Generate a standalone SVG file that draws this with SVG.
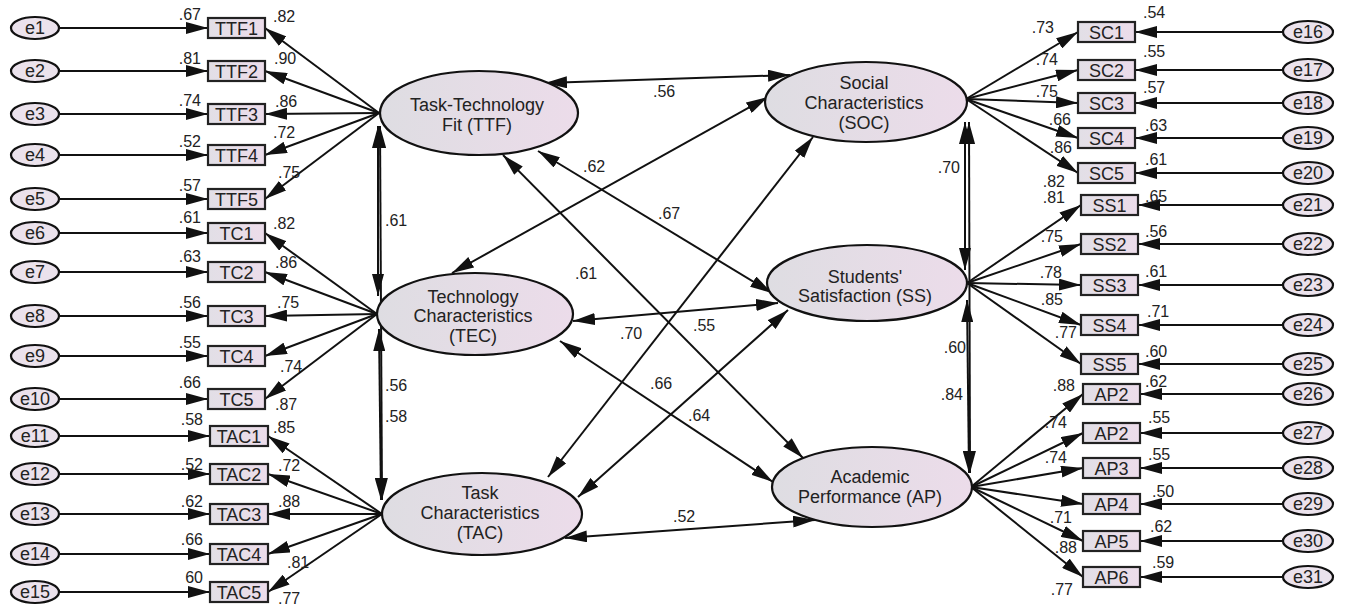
<svg xmlns="http://www.w3.org/2000/svg" width="1349" height="608" viewBox="0 0 1349 608">
<defs>
<linearGradient id="g" x1="0" y1="0" x2="1" y2="0">
<stop offset="0" stop-color="#dedde2"/><stop offset="1" stop-color="#ecdcea"/>
</linearGradient>
<linearGradient id="gb" x1="0" y1="0" x2="1" y2="0">
<stop offset="0" stop-color="#e2dfe6"/><stop offset="1" stop-color="#ecdcea"/>
</linearGradient>
<marker id="ah" viewBox="0 0 22 12" refX="22" refY="6" markerWidth="22" markerHeight="12" markerUnits="userSpaceOnUse" orient="auto-start-reverse">
<path d="M0,0 L22,6 L0,12 z" fill="#111"/>
</marker>
<style>
.lat{fill:url(#g);stroke:#111;stroke-width:2.2}
.err{fill:#ebe2ec;stroke:#111;stroke-width:2.2}
.box{fill:url(#gb);stroke:#222;stroke-width:2.2}
.ln{stroke:#111;stroke-width:2;fill:none;marker-end:url(#ah)}
.dbl{stroke:#111;stroke-width:2;fill:none;marker-end:url(#ah);marker-start:url(#ah)}
text{font-family:"Liberation Sans",Arial,sans-serif;fill:#222}
.lt{font-size:18px;text-anchor:middle}
.bt{font-size:18px;text-anchor:middle}
.et{font-size:18px;text-anchor:middle}
.nr{font-size:16px;text-anchor:end}
.nl{font-size:16px;text-anchor:start}
</style>
</defs>

<g id="connectors">
<line class="ln" x1="59" y1="28" x2="208" y2="28"/>
<line class="ln" x1="59" y1="71" x2="208" y2="71"/>
<line class="ln" x1="59" y1="114" x2="208" y2="114"/>
<line class="ln" x1="59" y1="155" x2="208" y2="155"/>
<line class="ln" x1="59" y1="199" x2="208" y2="199"/>
<line class="ln" x1="59" y1="233" x2="208" y2="233"/>
<line class="ln" x1="59" y1="272" x2="208" y2="272"/>
<line class="ln" x1="59" y1="316" x2="208" y2="316"/>
<line class="ln" x1="59" y1="356" x2="208" y2="356"/>
<line class="ln" x1="59" y1="399" x2="208" y2="399"/>
<line class="ln" x1="59" y1="436" x2="210" y2="436"/>
<line class="ln" x1="59" y1="474" x2="210" y2="474"/>
<line class="ln" x1="59" y1="514" x2="210" y2="514"/>
<line class="ln" x1="59" y1="554" x2="210" y2="554"/>
<line class="ln" x1="59" y1="592" x2="210" y2="592"/>
<line class="ln" x1="379" y1="113" x2="265" y2="28"/>
<line class="ln" x1="379" y1="113" x2="265" y2="71"/>
<line class="ln" x1="379" y1="113" x2="265" y2="114"/>
<line class="ln" x1="379" y1="113" x2="265" y2="155"/>
<line class="ln" x1="379" y1="113" x2="265" y2="199"/>
<line class="ln" x1="377" y1="314" x2="265" y2="233"/>
<line class="ln" x1="377" y1="314" x2="265" y2="272"/>
<line class="ln" x1="377" y1="314" x2="265" y2="316"/>
<line class="ln" x1="377" y1="314" x2="265" y2="356"/>
<line class="ln" x1="377" y1="314" x2="265" y2="399"/>
<line class="ln" x1="382" y1="514" x2="268" y2="436"/>
<line class="ln" x1="382" y1="514" x2="268" y2="474"/>
<line class="ln" x1="382" y1="514" x2="268" y2="514"/>
<line class="ln" x1="382" y1="514" x2="268" y2="554"/>
<line class="ln" x1="382" y1="514" x2="268" y2="592"/>
<line class="ln" x1="966" y1="99" x2="1078" y2="32"/>
<line class="ln" x1="966" y1="99" x2="1078" y2="70"/>
<line class="ln" x1="966" y1="99" x2="1078" y2="103"/>
<line class="ln" x1="966" y1="99" x2="1078" y2="138"/>
<line class="ln" x1="966" y1="99" x2="1078" y2="173"/>
<line class="ln" x1="967" y1="283" x2="1081" y2="205"/>
<line class="ln" x1="967" y1="283" x2="1081" y2="244"/>
<line class="ln" x1="967" y1="283" x2="1081" y2="285"/>
<line class="ln" x1="967" y1="283" x2="1081" y2="325"/>
<line class="ln" x1="967" y1="283" x2="1081" y2="364"/>
<line class="ln" x1="971" y1="487" x2="1083" y2="394"/>
<line class="ln" x1="971" y1="487" x2="1083" y2="433"/>
<line class="ln" x1="971" y1="487" x2="1083" y2="468"/>
<line class="ln" x1="971" y1="487" x2="1083" y2="504"/>
<line class="ln" x1="971" y1="487" x2="1083" y2="541"/>
<line class="ln" x1="971" y1="487" x2="1083" y2="577"/>
<line class="ln" x1="1283" y1="32" x2="1135" y2="32"/>
<line class="ln" x1="1283" y1="70" x2="1135" y2="70"/>
<line class="ln" x1="1283" y1="103" x2="1135" y2="103"/>
<line class="ln" x1="1283" y1="138" x2="1135" y2="138"/>
<line class="ln" x1="1283" y1="173" x2="1135" y2="173"/>
<line class="ln" x1="1283" y1="205" x2="1138" y2="205"/>
<line class="ln" x1="1283" y1="244" x2="1138" y2="244"/>
<line class="ln" x1="1283" y1="285" x2="1138" y2="285"/>
<line class="ln" x1="1283" y1="325" x2="1138" y2="325"/>
<line class="ln" x1="1283" y1="364" x2="1138" y2="364"/>
<line class="ln" x1="1283" y1="394" x2="1140" y2="394"/>
<line class="ln" x1="1283" y1="433" x2="1140" y2="433"/>
<line class="ln" x1="1283" y1="468" x2="1140" y2="468"/>
<line class="ln" x1="1283" y1="504" x2="1140" y2="504"/>
<line class="ln" x1="1283" y1="541" x2="1140" y2="541"/>
<line class="ln" x1="1283" y1="577" x2="1140" y2="577"/>
<line class="dbl" x1="378" y1="126" x2="378" y2="296"/>
<line class="dbl" x1="379" y1="329" x2="381" y2="500"/>
<line class="dbl" x1="380" y1="126" x2="382" y2="500"/>
<line class="dbl" x1="965" y1="122" x2="965" y2="270"/>
<line class="dbl" x1="967" y1="300" x2="969" y2="473"/>
<line class="dbl" x1="969" y1="122" x2="970" y2="473"/>
<line class="dbl" x1="545" y1="83" x2="790" y2="75"/>
<line class="dbl" x1="538" y1="151" x2="772" y2="293"/>
<line class="dbl" x1="503" y1="155" x2="803" y2="458"/>
<line class="dbl" x1="452" y1="273" x2="768" y2="97"/>
<line class="dbl" x1="573" y1="321" x2="778" y2="303"/>
<line class="dbl" x1="560" y1="341" x2="773" y2="482"/>
<line class="dbl" x1="548" y1="477" x2="813" y2="137"/>
<line class="dbl" x1="578" y1="497" x2="788" y2="310"/>
<line class="dbl" x1="565" y1="538" x2="815" y2="520"/>
</g>

<g id="latents">
<g id="TTF"><ellipse class="lat" cx="479" cy="113" rx="99" ry="42"/><text class="lt" x="477" y="111">Task-Technology</text><text class="lt" x="477" y="131">Fit (TTF)</text></g>
<g id="TEC"><ellipse class="lat" cx="475" cy="314" rx="98" ry="41"/><text class="lt" x="473" y="303">Technology</text><text class="lt" x="473" y="322">Characteristics</text><text class="lt" x="473" y="342">(TEC)</text></g>
<g id="TAC"><ellipse class="lat" cx="482" cy="514" rx="100" ry="41"/><text class="lt" x="480" y="499">Task</text><text class="lt" x="480" y="519">Characteristics</text><text class="lt" x="480" y="539">(TAC)</text></g>
<g id="SOC"><ellipse class="lat" cx="866" cy="102" rx="101" ry="40"/><text class="lt" x="864" y="89">Social</text><text class="lt" x="864" y="109">Characteristics</text><text class="lt" x="864" y="129">(SOC)</text></g>
<g id="SS"><ellipse class="lat" cx="867" cy="283" rx="100" ry="38"/><text class="lt" x="865" y="283">Students'</text><text class="lt" x="865" y="302">Satisfaction (SS)</text></g>
<g id="AP"><ellipse class="lat" cx="872" cy="487" rx="100" ry="40"/><text class="lt" x="870" y="483">Academic</text><text class="lt" x="870" y="503">Performance (AP)</text></g>
</g>

<g id="indicators-left">
<g id="TTF1"><rect class="box" x="208" y="18" width="57" height="20"/><text class="bt" x="236.5" y="35">TTF1</text></g>
<g id="TTF2"><rect class="box" x="208" y="61" width="57" height="20"/><text class="bt" x="236.5" y="78">TTF2</text></g>
<g id="TTF3"><rect class="box" x="208" y="104" width="57" height="20"/><text class="bt" x="236.5" y="121">TTF3</text></g>
<g id="TTF4"><rect class="box" x="208" y="145" width="57" height="20"/><text class="bt" x="236.5" y="162">TTF4</text></g>
<g id="TTF5"><rect class="box" x="208" y="189" width="57" height="20"/><text class="bt" x="236.5" y="206">TTF5</text></g>
<g id="TC1"><rect class="box" x="208" y="223" width="57" height="20"/><text class="bt" x="236.5" y="240">TC1</text></g>
<g id="TC2"><rect class="box" x="208" y="262" width="57" height="20"/><text class="bt" x="236.5" y="279">TC2</text></g>
<g id="TC3"><rect class="box" x="208" y="306" width="57" height="20"/><text class="bt" x="236.5" y="323">TC3</text></g>
<g id="TC4"><rect class="box" x="208" y="346" width="57" height="20"/><text class="bt" x="236.5" y="363">TC4</text></g>
<g id="TC5"><rect class="box" x="208" y="389" width="57" height="20"/><text class="bt" x="236.5" y="406">TC5</text></g>
<g id="TAC1"><rect class="box" x="210" y="426" width="58" height="20"/><text class="bt" x="239" y="443">TAC1</text></g>
<g id="TAC2"><rect class="box" x="210" y="464" width="58" height="20"/><text class="bt" x="239" y="481">TAC2</text></g>
<g id="TAC3"><rect class="box" x="210" y="504" width="58" height="20"/><text class="bt" x="239" y="521">TAC3</text></g>
<g id="TAC4"><rect class="box" x="210" y="544" width="58" height="20"/><text class="bt" x="239" y="561">TAC4</text></g>
<g id="TAC5"><rect class="box" x="210" y="582" width="58" height="20"/><text class="bt" x="239" y="599">TAC5</text></g>
</g>

<g id="indicators-right">
<g id="SC1"><rect class="box" x="1078" y="22" width="57" height="20"/><text class="bt" x="1106.5" y="39">SC1</text></g>
<g id="SC2"><rect class="box" x="1078" y="60" width="57" height="20"/><text class="bt" x="1106.5" y="77">SC2</text></g>
<g id="SC3"><rect class="box" x="1078" y="93" width="57" height="20"/><text class="bt" x="1106.5" y="110">SC3</text></g>
<g id="SC4"><rect class="box" x="1078" y="128" width="57" height="20"/><text class="bt" x="1106.5" y="145">SC4</text></g>
<g id="SC5"><rect class="box" x="1078" y="163" width="57" height="20"/><text class="bt" x="1106.5" y="180">SC5</text></g>
<g id="SS1"><rect class="box" x="1081" y="195" width="57" height="20"/><text class="bt" x="1109.5" y="212">SS1</text></g>
<g id="SS2"><rect class="box" x="1081" y="234" width="57" height="20"/><text class="bt" x="1109.5" y="251">SS2</text></g>
<g id="SS3"><rect class="box" x="1081" y="275" width="57" height="20"/><text class="bt" x="1109.5" y="292">SS3</text></g>
<g id="SS4"><rect class="box" x="1081" y="315" width="57" height="20"/><text class="bt" x="1109.5" y="332">SS4</text></g>
<g id="SS5"><rect class="box" x="1081" y="354" width="57" height="20"/><text class="bt" x="1109.5" y="371">SS5</text></g>
<g id="AP2a"><rect class="box" x="1083" y="384" width="57" height="20"/><text class="bt" x="1111.5" y="401">AP2</text></g>
<g id="AP2b"><rect class="box" x="1083" y="423" width="57" height="20"/><text class="bt" x="1111.5" y="440">AP2</text></g>
<g id="AP3"><rect class="box" x="1083" y="458" width="57" height="20"/><text class="bt" x="1111.5" y="475">AP3</text></g>
<g id="AP4"><rect class="box" x="1083" y="494" width="57" height="20"/><text class="bt" x="1111.5" y="511">AP4</text></g>
<g id="AP5"><rect class="box" x="1083" y="531" width="57" height="20"/><text class="bt" x="1111.5" y="548">AP5</text></g>
<g id="AP6"><rect class="box" x="1083" y="567" width="57" height="20"/><text class="bt" x="1111.5" y="584">AP6</text></g>
</g>

<g id="errors-left">
<g id="e1"><ellipse class="err" cx="35" cy="28" rx="24" ry="11"/><text class="et" x="35" y="34">e1</text></g>
<g id="e2"><ellipse class="err" cx="35" cy="71" rx="24" ry="11"/><text class="et" x="35" y="77">e2</text></g>
<g id="e3"><ellipse class="err" cx="35" cy="114" rx="24" ry="11"/><text class="et" x="35" y="120">e3</text></g>
<g id="e4"><ellipse class="err" cx="35" cy="155" rx="24" ry="11"/><text class="et" x="35" y="161">e4</text></g>
<g id="e5"><ellipse class="err" cx="35" cy="199" rx="24" ry="11"/><text class="et" x="35" y="205">e5</text></g>
<g id="e6"><ellipse class="err" cx="35" cy="233" rx="24" ry="11"/><text class="et" x="35" y="239">e6</text></g>
<g id="e7"><ellipse class="err" cx="35" cy="272" rx="24" ry="11"/><text class="et" x="35" y="278">e7</text></g>
<g id="e8"><ellipse class="err" cx="35" cy="316" rx="24" ry="11"/><text class="et" x="35" y="322">e8</text></g>
<g id="e9"><ellipse class="err" cx="35" cy="356" rx="24" ry="11"/><text class="et" x="35" y="362">e9</text></g>
<g id="e10"><ellipse class="err" cx="35" cy="399" rx="24" ry="11"/><text class="et" x="35" y="405">e10</text></g>
<g id="e11"><ellipse class="err" cx="35" cy="436" rx="24" ry="11"/><text class="et" x="35" y="442">e11</text></g>
<g id="e12"><ellipse class="err" cx="35" cy="474" rx="24" ry="11"/><text class="et" x="35" y="480">e12</text></g>
<g id="e13"><ellipse class="err" cx="35" cy="514" rx="24" ry="11"/><text class="et" x="35" y="520">e13</text></g>
<g id="e14"><ellipse class="err" cx="35" cy="554" rx="24" ry="11"/><text class="et" x="35" y="560">e14</text></g>
<g id="e15"><ellipse class="err" cx="35" cy="592" rx="24" ry="11"/><text class="et" x="35" y="598">e15</text></g>
</g>

<g id="errors-right">
<g id="e16"><ellipse class="err" cx="1308" cy="32" rx="25" ry="11"/><text class="et" x="1308" y="38">e16</text></g>
<g id="e17"><ellipse class="err" cx="1308" cy="70" rx="25" ry="11"/><text class="et" x="1308" y="76">e17</text></g>
<g id="e18"><ellipse class="err" cx="1308" cy="103" rx="25" ry="11"/><text class="et" x="1308" y="109">e18</text></g>
<g id="e19"><ellipse class="err" cx="1308" cy="138" rx="25" ry="11"/><text class="et" x="1308" y="144">e19</text></g>
<g id="e20"><ellipse class="err" cx="1308" cy="173" rx="25" ry="11"/><text class="et" x="1308" y="179">e20</text></g>
<g id="e21"><ellipse class="err" cx="1308" cy="205" rx="25" ry="11"/><text class="et" x="1308" y="211">e21</text></g>
<g id="e22"><ellipse class="err" cx="1308" cy="244" rx="25" ry="11"/><text class="et" x="1308" y="250">e22</text></g>
<g id="e23"><ellipse class="err" cx="1308" cy="285" rx="25" ry="11"/><text class="et" x="1308" y="291">e23</text></g>
<g id="e24"><ellipse class="err" cx="1308" cy="325" rx="25" ry="11"/><text class="et" x="1308" y="331">e24</text></g>
<g id="e25"><ellipse class="err" cx="1308" cy="364" rx="25" ry="11"/><text class="et" x="1308" y="370">e25</text></g>
<g id="e26"><ellipse class="err" cx="1308" cy="394" rx="25" ry="11"/><text class="et" x="1308" y="400">e26</text></g>
<g id="e27"><ellipse class="err" cx="1308" cy="433" rx="25" ry="11"/><text class="et" x="1308" y="439">e27</text></g>
<g id="e28"><ellipse class="err" cx="1308" cy="468" rx="25" ry="11"/><text class="et" x="1308" y="474">e28</text></g>
<g id="e29"><ellipse class="err" cx="1308" cy="504" rx="25" ry="11"/><text class="et" x="1308" y="510">e29</text></g>
<g id="e30"><ellipse class="err" cx="1308" cy="541" rx="25" ry="11"/><text class="et" x="1308" y="547">e30</text></g>
<g id="e31"><ellipse class="err" cx="1308" cy="577" rx="25" ry="11"/><text class="et" x="1308" y="583">e31</text></g>
</g>

<g id="labels">
<text class="nr" x="201" y="20">.67</text>
<text class="nr" x="201" y="64">.81</text>
<text class="nr" x="201" y="106">.74</text>
<text class="nr" x="201" y="147">.52</text>
<text class="nr" x="201" y="191">.57</text>
<text class="nr" x="201" y="223">.61</text>
<text class="nr" x="201" y="262">.63</text>
<text class="nr" x="201" y="308">.56</text>
<text class="nr" x="201" y="348">.55</text>
<text class="nr" x="201" y="388">.66</text>
<text class="nr" x="203" y="425">.58</text>
<text class="nr" x="203" y="470">.52</text>
<text class="nr" x="203" y="507">.62</text>
<text class="nr" x="203" y="545">.66</text>
<text class="nr" x="203" y="583">60</text>
<text class="nl" x="273" y="22">.82</text>
<text class="nl" x="274" y="64">.90</text>
<text class="nl" x="275" y="107">.86</text>
<text class="nl" x="273" y="138">.72</text>
<text class="nl" x="278" y="178">.75</text>
<text class="nl" x="273" y="229">.82</text>
<text class="nl" x="275" y="268">.86</text>
<text class="nl" x="277" y="308">.75</text>
<text class="nl" x="280" y="372">.74</text>
<text class="nl" x="275" y="410">.87</text>
<text class="nl" x="273" y="433">.85</text>
<text class="nl" x="278" y="471">.72</text>
<text class="nl" x="278" y="507">.88</text>
<text class="nl" x="287" y="568">.81</text>
<text class="nl" x="278" y="604">.77</text>
<text class="nl" x="385" y="226">.61</text>
<text class="nl" x="385" y="391">.56</text>
<text class="nl" x="385" y="422">.58</text>
<text class="nl" x="653" y="97">.56</text>
<text class="nl" x="583" y="172">.62</text>
<text class="nl" x="658" y="219">.67</text>
<text class="nl" x="575" y="279">.61</text>
<text class="nl" x="620" y="339">.70</text>
<text class="nl" x="693" y="331">.55</text>
<text class="nl" x="650" y="389">.66</text>
<text class="nl" x="688" y="421">.64</text>
<text class="nl" x="673" y="522">.52</text>
<text class="nr" x="960" y="173">.70</text>
<text class="nr" x="966" y="353">.60</text>
<text class="nr" x="963" y="400">.84</text>
<text class="nr" x="1054" y="33">.73</text>
<text class="nr" x="1058" y="65">.74</text>
<text class="nr" x="1058" y="97">.75</text>
<text class="nr" x="1071" y="125">.66</text>
<text class="nr" x="1072" y="153">.86</text>
<text class="nr" x="1065" y="187">.82</text>
<text class="nr" x="1065" y="203">.81</text>
<text class="nr" x="1063" y="242">.75</text>
<text class="nr" x="1062" y="278">.78</text>
<text class="nr" x="1063" y="305">.85</text>
<text class="nr" x="1077" y="338">.77</text>
<text class="nr" x="1075" y="391">.88</text>
<text class="nr" x="1067" y="428">.74</text>
<text class="nr" x="1067" y="463">.74</text>
<text class="nr" x="1072" y="523">.71</text>
<text class="nr" x="1077" y="553">.88</text>
<text class="nr" x="1073" y="595">.77</text>
<text class="nl" x="1143" y="18">.54</text>
<text class="nl" x="1143" y="57">.55</text>
<text class="nl" x="1143" y="93">.57</text>
<text class="nl" x="1145" y="131">.63</text>
<text class="nl" x="1145" y="165">.61</text>
<text class="nl" x="1145" y="202">.65</text>
<text class="nl" x="1145" y="237">.56</text>
<text class="nl" x="1145" y="277">.61</text>
<text class="nl" x="1147" y="317">.71</text>
<text class="nl" x="1145" y="357">.60</text>
<text class="nl" x="1145" y="387">.62</text>
<text class="nl" x="1148" y="423">.55</text>
<text class="nl" x="1148" y="460">.55</text>
<text class="nl" x="1152" y="497">.50</text>
<text class="nl" x="1150" y="532">.62</text>
<text class="nl" x="1152" y="568">.59</text>
</g>
</svg>
